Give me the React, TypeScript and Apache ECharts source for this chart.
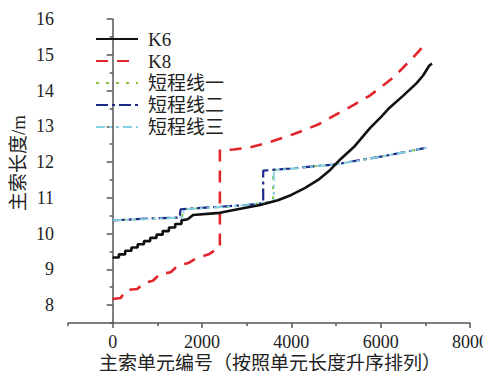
import React, { useEffect, useRef } from "react";
import * as echarts from "echarts";

const seriesNames = ["K6", "K8", "短程线一", "短程线二", "短程线三"];

const k6Data: [number, number][] = [
  [0, 9.33], [140, 9.33], [140, 9.42], [280, 9.42], [280, 9.52], [420, 9.52], [420, 9.61],
  [560, 9.61], [560, 9.7], [700, 9.7], [700, 9.79], [840, 9.79], [840, 9.88], [980, 9.88],
  [980, 9.97], [1120, 9.97], [1120, 10.07], [1260, 10.07], [1260, 10.17], [1400, 10.17],
  [1400, 10.27], [1540, 10.27], [1540, 10.37], [1680, 10.4], [1800, 10.52], [2400, 10.58],
  [2800, 10.68], [3300, 10.8], [3700, 10.93], [4000, 11.08], [4300, 11.27], [4600, 11.5],
  [4870, 11.78], [5100, 12.08], [5400, 12.42], [5760, 12.95], [6000, 13.25], [6200, 13.52],
  [6500, 13.85], [6800, 14.2], [6950, 14.42], [7090, 14.7], [7150, 14.75],
];

const k8Data: [number, number][] = [
  [0, 8.17], [180, 8.2], [300, 8.42], [550, 8.45], [700, 8.62], [900, 8.68], [1050, 8.86],
  [1300, 8.92], [1450, 9.1], [1700, 9.18], [1900, 9.33], [2150, 9.42], [2350, 9.58],
  [2400, 9.6], [2400, 12.33], [2700, 12.35], [3034, 12.4], [3500, 12.55], [4075, 12.79],
  [4600, 13.05], [5030, 13.35], [5400, 13.6], [5760, 13.86], [6290, 14.37], [6730, 14.93],
  [6980, 15.27], [7050, 15.3],
];

const short1Data: [number, number][] = [
  [0, 10.37], [800, 10.41], [1550, 10.45], [1580, 10.68], [2400, 10.74], [3000, 10.8],
  [3590, 10.9], [3590, 11.78], [4000, 11.82], [4500, 11.88], [5030, 11.94], [5500, 12.05],
  [6000, 12.15], [6500, 12.27], [7020, 12.4],
];

const short2Data: [number, number][] = [
  [0, 10.37], [800, 10.42], [1500, 10.45], [1520, 10.68], [2400, 10.75], [3000, 10.8],
  [3370, 10.85], [3370, 11.76], [4000, 11.82], [4500, 11.88], [5030, 11.94], [5500, 12.05],
  [6000, 12.15], [6500, 12.27], [7020, 12.4],
];

const short3Data: [number, number][] = [
  [0, 10.37], [800, 10.41], [1560, 10.45], [1600, 10.68], [2400, 10.74], [3000, 10.8],
  [3610, 10.9], [3610, 11.78], [4000, 11.81], [4500, 11.88], [5030, 11.94], [5500, 12.04],
  [6000, 12.15], [6500, 12.27], [7020, 12.4],
];

const xLabelValues = [0, 2000, 4000, 6000, 8000];
const xMinorValues = [-1000, 1000, 3000, 5000, 7000];
const yLabelValues = [8, 9, 10, 11, 12, 13, 14, 15, 16];
const yMinorValues = [7.5, 8.5, 9.5, 10.5, 11.5, 12.5, 13.5, 14.5, 15.5];

const xName = "主索单元编号（按照单元长度升序排列）";
const yName = "主索长度/m";

const FONT = "Liberation Serif, Noto Sans CJK SC";

export default function App() {
  const ref = useRef<HTMLDivElement>(null);
  useEffect(() => {
    if (!ref.current) return;
    const chart = echarts.init(ref.current, undefined, { renderer: "svg" });
    const axisColor = "#555";
    const common = { min: -1000, max: 8000 };
    chart.setOption({
      animation: false,
      backgroundColor: "#fff",
      textStyle: { fontFamily: FONT },
      grid: { left: 68, right: 17, top: 19, bottom: 56 },
      legend: {
        orient: "vertical",
        left: 95,
        top: 29,
        padding: 0,
        itemWidth: 42,
        itemHeight: 14,
        itemGap: 2,
        data: seriesNames,
        itemStyle: { opacity: 0 },
        textStyle: { fontFamily: FONT, fontSize: 19, lineHeight: 20, color: "#222", padding: [0, 0, 0, 5] },
      },
      xAxis: [
        {
          type: "value",
          ...common,
          interval: 1000,
          axisLine: { lineStyle: { color: axisColor, width: 1.5 } },
          axisTick: { show: true, length: 5, customValues: xLabelValues, lineStyle: { color: axisColor, width: 1.5 } },
          axisLabel: {
            customValues: xLabelValues,
            formatter: (v: number) => String(v),
            fontFamily: FONT,
            fontSize: 18,
            color: "#222",
            margin: 10,
          },
          splitLine: { show: false },
        },
        {
          type: "value",
          ...common,
          interval: 1000,
          position: "bottom",
          axisLine: { show: false },
          axisTick: { show: true, length: 3, customValues: xMinorValues, lineStyle: { color: axisColor, width: 1.5 } },
          axisLabel: { show: false },
          splitLine: { show: false },
        },
      ],
      yAxis: [
        {
          type: "value",
          min: 7.5,
          max: 16,
          interval: 0.5,
          axisLine: { show: true, lineStyle: { color: axisColor, width: 1.5 } },
          axisTick: { show: true, length: 6, customValues: yLabelValues, lineStyle: { color: axisColor, width: 1.5 } },
          axisLabel: {
            customValues: yLabelValues,
            formatter: (v: number) => String(v),
            fontFamily: FONT,
            fontSize: 18,
            color: "#222",
            margin: 14,
          },
          splitLine: { show: false },
        },
        {
          type: "value",
          min: 7.5,
          max: 16,
          interval: 0.5,
          position: "left",
          axisLine: { show: false },
          axisTick: { show: true, length: 3, customValues: yMinorValues, lineStyle: { color: axisColor, width: 1.5 } },
          axisLabel: { show: false },
          splitLine: { show: false },
        },
      ],
      graphic: [
        {
          type: "text",
          x: 18,
          y: 163,
          rotation: Math.PI / 2,
          style: {
            text: yName,
            fontFamily: FONT,
            fontSize: 19,
            fill: "#222",
            align: "center",
            verticalAlign: "middle",
          },
        },
        {
          type: "text",
          x: 270,
          y: 363,
          style: {
            text: xName,
            fontFamily: FONT,
            fontSize: 19,
            fill: "#222",
            align: "center",
            verticalAlign: "middle",
          },
        },
      ],
      series: [
        {
          name: "K6",
          type: "line",
          data: k6Data,
          symbol: "none",
          lineStyle: { color: "#111", width: 2.6, type: "solid" },
          itemStyle: { color: "#111" },
          z: 5,
        },
        {
          name: "K8",
          type: "line",
          data: k8Data,
          symbol: "none",
          lineStyle: { color: "#e0252b", width: 2.6, type: [12, 9] },
          itemStyle: { color: "#e0252b" },
        },
        {
          name: "短程线一",
          type: "line",
          data: short1Data,
          symbol: "none",
          lineStyle: { color: "#86c23a", width: 2, type: [3, 7] },
          itemStyle: { color: "#86c23a" },
        },
        {
          name: "短程线二",
          type: "line",
          data: short2Data,
          symbol: "none",
          lineStyle: { color: "#1b2a8c", width: 2.2, type: [12, 4, 3, 4] },
          itemStyle: { color: "#1b2a8c" },
        },
        {
          name: "短程线三",
          type: "line",
          data: short3Data,
          symbol: "none",
          lineStyle: { color: "#86d0e4", width: 2, type: [9, 4, 3, 4, 3, 4] },
          itemStyle: { color: "#86d0e4" },
        },
      ],
    });
    return () => chart.dispose();
  }, []);
  return <div ref={ref} style={{ width: 491, height: 379, margin: -8 }} />;
}
